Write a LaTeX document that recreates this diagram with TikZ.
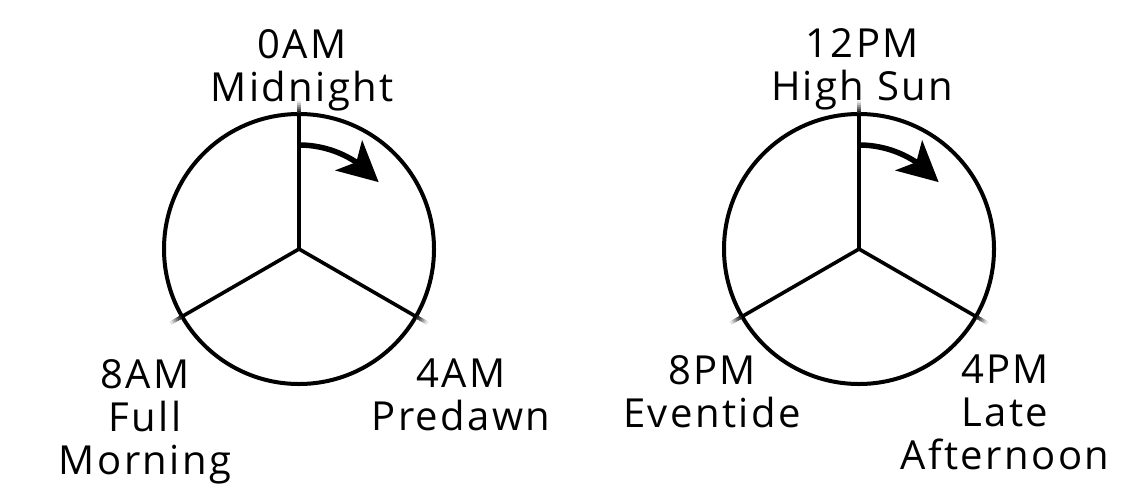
\documentclass[tikz,border=0pt]{standalone}
\usepackage{fontspec}
\setmainfont{Open Sans}[LetterSpace=6.0]
\usetikzlibrary{arrows.meta,bending}
\tikzset{
  dial ring/.style={
    line width=4pt
  },
  dial spoke/.style={
    line width=3.6pt,
    line cap=butt
  },
  dial turn/.style={
    line width=5.5pt,
    -{Stealth[length=40pt,width=40pt,inset=10pt]}
  },
  dial label/.style={
    font=\fontsize{40}{43}\selectfont,
    align=center,
    anchor=north,
    inner sep=0pt
  }
}

\begin{document}
\begin{tikzpicture}[x=1pt,y=1pt]
  \useasboundingbox (0,0) rectangle (1134,-490);
  \coordinate (L) at (299,-249);
  \coordinate (R) at (859,-249);
  \foreach \c in {L,R} {
    \draw[dial ring] (\c) circle[radius=135];
    \foreach \a in {90,210,330} {
      \draw[dial spoke] (\c) -- ([shift={(\a:136)}]\c);
      % soft ends past the ring
      \foreach \k in {0,...,5} {
        \pgfmathtruncatemacro\fadepct{85-15*\k}
        \draw[dial spoke, black!\fadepct]
          ([shift={(\a:136+2*\k)}]\c) -- ([shift={(\a:138.5+2*\k)}]\c);
      }
    }
    \draw[dial turn] ([shift={(90:104)}]\c) arc[start angle=90, end angle=40, radius=104];
  }
  \node[dial label] (midnight) at (302,-29) {0AM\\Midnight};
  \node[dial label] (morning) at (145,-359) {8AM\\Full\\Morning};
  \node[dial label] (predawn) at (461,-359) {4AM\\Predawn};
  \node[dial label] (highsun) at (862,-28) {12PM\\High Sun};
  \node[dial label] (eventide) at (712,-355) {8PM\\Eventide};
  \node[dial label] (afternoon) at (1005,-355) {4PM\\Late\\Afternoon};
\end{tikzpicture}
\end{document}
